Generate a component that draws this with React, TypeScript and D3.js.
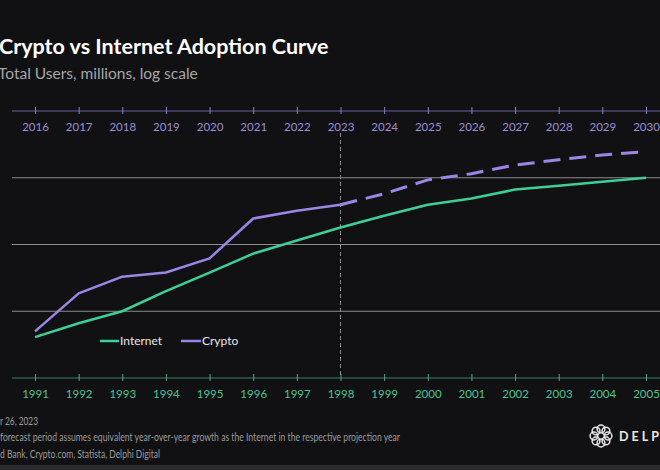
import React, { useEffect, useRef } from "react";
import * as d3 from "d3";

// years
const cryptoYears = ["2016","2017","2018","2019","2020","2021","2022","2023","2024","2025","2026","2027","2028","2029","2030"];
const internetYears = ["1991","1992","1993","1994","1995","1996","1997","1998","1999","2000","2001","2002","2003","2004","2005"];

// total users, millions
const internetUsers = [4.1, 6.6, 10, 20, 38, 73, 115, 180, 270, 395, 490, 665, 760, 870, 1000];
const cryptoActual = [5, 18.5, 33, 38, 62, 245, 320, 395];
const cryptoForecast = [395, 575, 930, 1150, 1550, 1860, 2200, 2450];

const gridValues = [10, 100, 1000];

const W = 660;
const H = 470;
const GREEN = "#3ecf95";
const PURPLE = "#9d85e6";
const FONT = "Lato, 'Open Sans', sans-serif";

const App = () => {
  const topRef = useRef(null);
  const botRef = useRef(null);

  const xTop = d3.scalePoint().domain(cryptoYears).range([35, 646]);
  const xBot = d3.scalePoint().domain(internetYears).range([35, 646]);
  const y = d3.scaleLog().domain([1, 10000]).range([378, 111]);

  useEffect(() => {
    const top = d3.select(topRef.current);
    top.selectAll("*").remove();
    top.call(d3.axisBottom(xTop).tickSizeInner(-4).tickSizeOuter(0).tickPadding(12));
    top.select(".domain").attr("stroke", "#6b619e").attr("d", "M12,0H660");
    top.selectAll(".tick line").attr("stroke", "#8a80c0").attr("y1", 3);
    top.selectAll("text").attr("fill", "#9a8fd6").attr("font-size", 11.5).attr("font-family", FONT);

    const bot = d3.select(botRef.current);
    bot.selectAll("*").remove();
    bot.call(d3.axisBottom(xBot).tickSizeInner(-4).tickSizeOuter(0).tickPadding(12));
    bot.select(".domain").attr("stroke", "#3f7e63").attr("d", "M12,0H660");
    bot.selectAll(".tick line").attr("stroke", "#5aa583").attr("y1", 3);
    bot.selectAll("text").attr("fill", "#4cc493").attr("font-size", 11.5).attr("font-family", FONT);
  }, []);

  const internetLine = d3
    .line<number>()
    .x((_, i) => xBot(internetYears[i]) as number)
    .y((d) => y(d));
  const actualLine = d3
    .line<number>()
    .x((_, i) => xTop(cryptoYears[i]) as number)
    .y((d) => y(d));
  const forecastLine = d3
    .line<number>()
    .x((_, i) => xTop(cryptoYears[i + 7]) as number)
    .y((d) => y(d));

  const xSplit = xTop("2023") as number;
  const logoCx = 601;
  const logoCy = 436;

  return (
    <svg width={W} height={H} style={{ position: "absolute", left: 0, top: 0 }} fontFamily={FONT}>
      <rect width={W} height={H} fill="#111114" />
      <rect y={465} width={W} height={5} fill="#2a2a2e" />

      <text x={-1} y={54} fill="#ffffff" fontSize={21.5} fontWeight="bold">Crypto vs Internet Adoption Curve</text>
      <text x={-2} y={79} fill="#a6a6a6" fontSize={15.5}>Total Users, millions, log scale</text>

      {gridValues.map((v) => (
        <line key={v} x1={12} x2={W} y1={y(v)} y2={y(v)} stroke="#8c8c8c" strokeWidth={1} />
      ))}

      <line x1={xSplit} x2={xSplit} y1={133} y2={378} stroke="#8a8a8a" strokeWidth={1} strokeDasharray="4,3" />

      <g ref={topRef} transform="translate(0,111)" />
      <g ref={botRef} transform="translate(0,378)" />

      <path d={internetLine(internetUsers) || ""} fill="none" stroke={GREEN} strokeWidth={2.5} strokeLinejoin="round" />
      <path d={actualLine(cryptoActual) || ""} fill="none" stroke={PURPLE} strokeWidth={2.5} strokeLinejoin="round" />
      <path d={forecastLine(cryptoForecast) || ""} fill="none" stroke={PURPLE} strokeWidth={3} strokeDasharray="17,9" />

      {/* legend */}
      <line x1={100} x2={119} y1={341} y2={341} stroke={GREEN} strokeWidth={2.5} />
      <text x={120} y={345} fill="#e6e6e6" fontSize={12}>Internet</text>
      <line x1={181} x2={201} y1={341} y2={341} stroke={PURPLE} strokeWidth={2.5} />
      <text x={202} y={345} fill="#e6e6e6" fontSize={12}>Crypto</text>

      {/* footer */}
      <g fill="#9a9a9a" fontSize={11.5}>
        <text x={0} y={425} textLength={38} lengthAdjust="spacingAndGlyphs">r 26, 2023</text>
        <text x={0} y={441} textLength={400} lengthAdjust="spacingAndGlyphs">forecast period assumes equivalent year-over-year growth as the Internet in the respective projection year</text>
        <text x={0} y={458} textLength={160} lengthAdjust="spacingAndGlyphs">d Bank, Crypto.com, Statista, Delphi Digital</text>
      </g>

      {/* logo */}
      <g fill="none" stroke="#e8e8e8" strokeWidth={1.5}>
        {d3.range(8).map((i) => {
          const a = (i * Math.PI) / 4;
          return <circle key={i} cx={logoCx + Math.cos(a) * 7} cy={logoCy + Math.sin(a) * 7} r={3.9} />;
        })}
      </g>
      <text x={619} y={441} fill="#e8e8e8" fontSize={12.5} fontWeight="bold" letterSpacing={3}>DELPHI</text>
    </svg>
  );
};

export default App;
